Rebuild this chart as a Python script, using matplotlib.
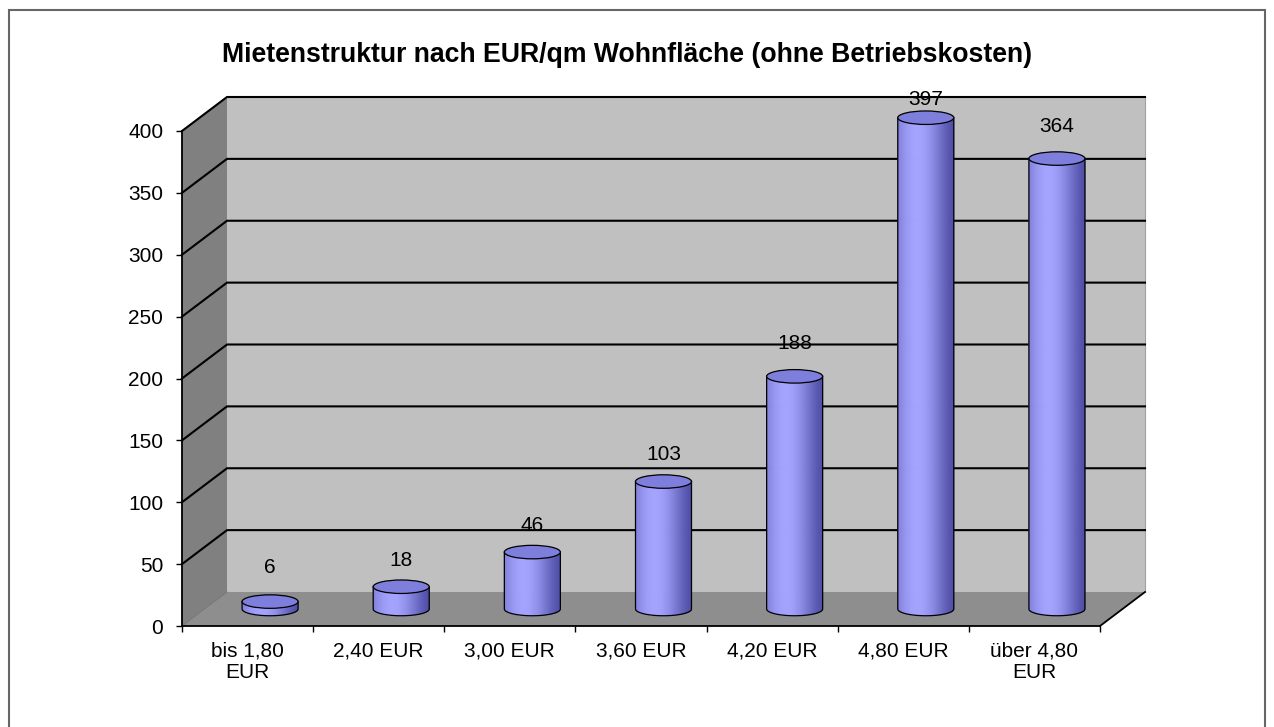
import numpy as np
import matplotlib
matplotlib.use('Agg')
import matplotlib.pyplot as plt
from matplotlib.patches import Polygon, Ellipse, Rectangle
from matplotlib.collections import PolyCollection
from matplotlib.lines import Line2D
from matplotlib.colors import to_rgb

# ---- data ----
categories = ["bis 1,80\nEUR", "2,40 EUR", "3,00 EUR", "3,60 EUR",
              "4,20 EUR", "4,80 EUR", "über 4,80\nEUR"]
values = [6, 18, 46, 103, 188, 397, 364]
yticks = [0, 50, 100, 150, 200, 250, 300, 350, 400]
title = "Mietenstruktur nach EUR/qm Wohnfläche (ohne Betriebskosten)"

# label offsets above cylinder tops (pixels), as placed by the original
label_offsets_px = [34, 26, 27, 27, 33, 18, 32]

plt.rcParams['font.family'] = ['Liberation Sans', 'DejaVu Sans']

W, H = 1274, 727
fig = plt.figure(figsize=(W / 100, H / 100), dpi=100)
fig.patch.set_facecolor('white')

# front plane (pixels)
x0, x1 = 182, 1100
y0, y1 = 626, 131
ax = fig.add_axes([x0 / W, (H - y0) / H, (x1 - x0) / W, (y0 - y1) / H])
n = len(values)
ax.set_xlim(0, n)
ax.set_ylim(0, 400)
ax.set_facecolor('none')

px_x = (x1 - x0) / n
px_y = (y0 - y1) / 400.0
DX = 45 / px_x          # depth offset in data units
DY = 34 / px_y

# walls / floor
back = Rectangle((DX, DY), n, 400, facecolor='#c0c0c0', edgecolor='none',
                 zorder=0.5, clip_on=False)
ax.add_patch(back)
side = Polygon([(0, 0), (0, 400), (DX, 400 + DY), (DX, DY)], closed=True,
               facecolor='#808080', edgecolor='none', zorder=0.6, clip_on=False)
ax.add_patch(side)
floor = Polygon([(0, 0), (n, 0), (n + DX, DY), (DX, DY)], closed=True,
                facecolor='#8e8e8e', edgecolor='none', zorder=0.7, clip_on=False)
ax.add_patch(floor)
ax.add_line(Line2D([0, DX], [0, DY], color='#707070', lw=0.6, zorder=0.8, clip_on=False))
ax.add_line(Line2D([n, n + DX], [0, DY], color='black', lw=1.3, zorder=1.5, clip_on=False))
ax.add_line(Line2D([n + DX, n + DX], [DY, 400 + DY], color='#a0a0a0', lw=0.8, zorder=0.8, clip_on=False))

for v in yticks[1:]:
    ax.add_line(Line2D([0, DX, n + DX], [v, v + DY, v + DY], color='black',
                       lw=1.5, zorder=1.5, clip_on=False,
                       solid_joinstyle='miter'))

# cylinders
cw = 56 / px_x
eh = 13.5 / px_y
dark = np.array(to_rgb('#5050a8'))
light = np.array(to_rgb('#a4a4ff'))
top_col = '#7e7edc'
N = 64
us = np.linspace(-1, 1, N + 1)
for i, v in enumerate(values):
    cx = i + 0.5 + DX / 2
    base = DY / 2
    top = base + v
    polys, cols = [], []
    for a, b in zip(us[:-1], us[1:]):
        xa, xb = cx + a * cw / 2, cx + b * cw / 2
        ya = base - eh / 2 * np.sqrt(max(0.0, 1 - a * a))
        yb = base - eh / 2 * np.sqrt(max(0.0, 1 - b * b))
        polys.append([(xa, ya), (xb, yb), (xb, top), (xa, top)])
        um = (a + b) / 2
        t = np.clip(np.cos((um + 0.3) * np.pi / 2.6), 0, 1) ** 1.4
        cols.append(dark + (light - dark) * t)
    pc = PolyCollection(polys, facecolors=cols, edgecolors=cols, linewidths=0.6,
                        zorder=3, clip_on=False)
    ax.add_collection(pc)
    # outline
    th = np.linspace(np.pi, 2 * np.pi, 60)
    ox = np.concatenate([[cx - cw / 2], cx + cw / 2 * np.cos(th), [cx + cw / 2]])
    oy = np.concatenate([[top], base + eh / 2 * np.sin(th), [top]])
    ax.add_line(Line2D(ox, oy, color='black', lw=0.9, zorder=3.1, clip_on=False))
    ax.add_patch(Ellipse((cx, top), cw, eh, facecolor=top_col, edgecolor='black',
                         lw=0.9, zorder=3.2, clip_on=False))
    ax.text(cx, top + label_offsets_px[i] / px_y, str(v), ha='center', va='center',
            fontsize=15, color='black', zorder=4, clip_on=False)

# axes styling
for s in ['top', 'right']:
    ax.spines[s].set_visible(False)
ax.spines['left'].set_linewidth(1.3)
ax.spines['bottom'].set_linewidth(1.3)
ax.spines['left'].set_zorder(2.5)
ax.spines['bottom'].set_zorder(2.5)
ax.set_yticks(yticks)
ax.set_yticklabels([str(t) for t in yticks], fontsize=15)
ax.tick_params(axis='y', direction='out', length=4.5, width=1, pad=9)
ax.set_xticks(np.arange(n + 1))
ax.set_xticklabels([])
ax.set_xticks(np.arange(n) + 0.5, minor=True)
ax.set_xticklabels(categories, minor=True, fontsize=15, ha='center')
ax.tick_params(axis='x', which='major', direction='out', length=4.5, width=1)
ax.tick_params(axis='x', which='minor', length=0, pad=11)

# title
fig.text(627 / W, (H - 62) / H, title, ha='center', va='baseline',
         fontsize=19.2, fontweight='bold')

# outer border
fig.add_artist(Rectangle((8.5 / W, -0.01), (1265 - 8.5) / W, (H - 10) / H + 0.01,
                         transform=fig.transFigure, facecolor='none',
                         edgecolor='#666666', lw=1.5, zorder=10))

fig.savefig('out.png', dpi=100)
